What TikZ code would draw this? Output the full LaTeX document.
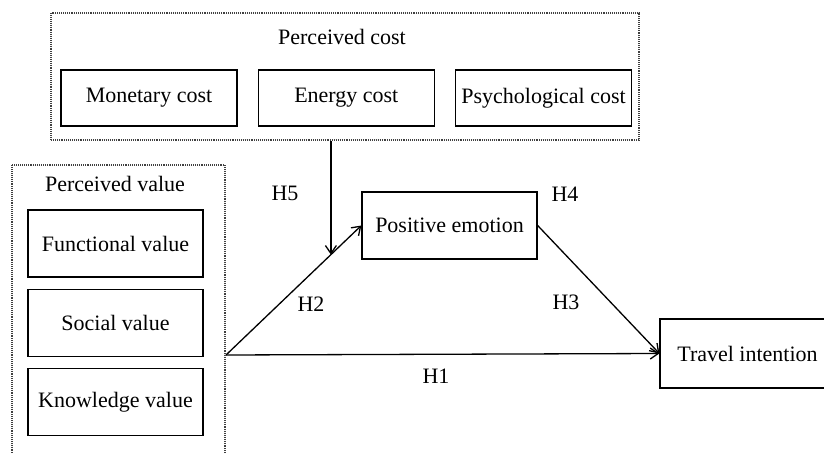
\documentclass[tikz,border=0pt]{standalone}
\usepackage{fontspec}
\setmainfont{Liberation Serif}
\usepackage{tikz}
\usetikzlibrary{positioning,arrows.meta,calc}

\begin{document}
\begin{tikzpicture}[x=1pt,y=-1pt,>={Straight Barb[length=8pt,width=11pt]},
  font=\fontsize{22}{26}\selectfont,node distance=11pt and 20pt,
  box/.style={draw,line width=1.3pt,inner sep=0pt},
  costbox/.style={box,minimum width=176pt,minimum height=56pt},
  valuebox/.style={box,minimum width=175pt,minimum height=67pt},
  groupbox/.style={draw,black!75,line width=1.2pt,dash pattern=on 1pt off 0.9pt,inner sep=0pt},
  link/.style={->,line width=1.3pt}]
\clip (0,0) rectangle (824,454);
% perceived cost group
\node[groupbox,minimum width=588pt,minimum height=127pt] (pc) at (345,76.5) {};
\node (pctitle) at (342,37) {Perceived cost};
\node[costbox] (money) at (149,98) {Monetary cost};
\node[costbox,right=of money] (energy) {Energy cost};
\node[costbox,right=of energy] (psych) {Psychological cost};
% perceived value group
\node[groupbox,minimum width=213pt,minimum height=305pt] (pv) at (118.5,317.5) {};
\node (pvtitle) at (115,184) {Perceived value};
\node[valuebox] (func) at (115.5,243.5) {Functional value};
\node[valuebox,below=of func] (social) {Social value};
\node[valuebox,below=of social] (know) {Knowledge value};
% outcomes
\node[valuebox] (emotion) at (449.5,225.5) {Positive emotion};
\node[box,minimum width=175pt,minimum height=69pt] (travel) at (747.5,353.5) {Travel intention};
% paths
\coordinate (src) at (226,355);
\coordinate (h5end) at ($(src)!0.775!(emotion.west)$);
\draw[link] (src) -- (emotion.west);
\draw[link] (src) -- (travel.west);
\draw[link] (emotion.east) -- (travel.west);
\draw[link] (h5end |- pc.south) -- (h5end);
% hypothesis labels
\node (h1) at (436,376) {H1};
\node (h2) at (311,304) {H2};
\node (h3) at (566,302) {H3};
\node (h4) at (565,194) {H4};
\node (h5) at (285,193) {H5};
\end{tikzpicture}
\end{document}
